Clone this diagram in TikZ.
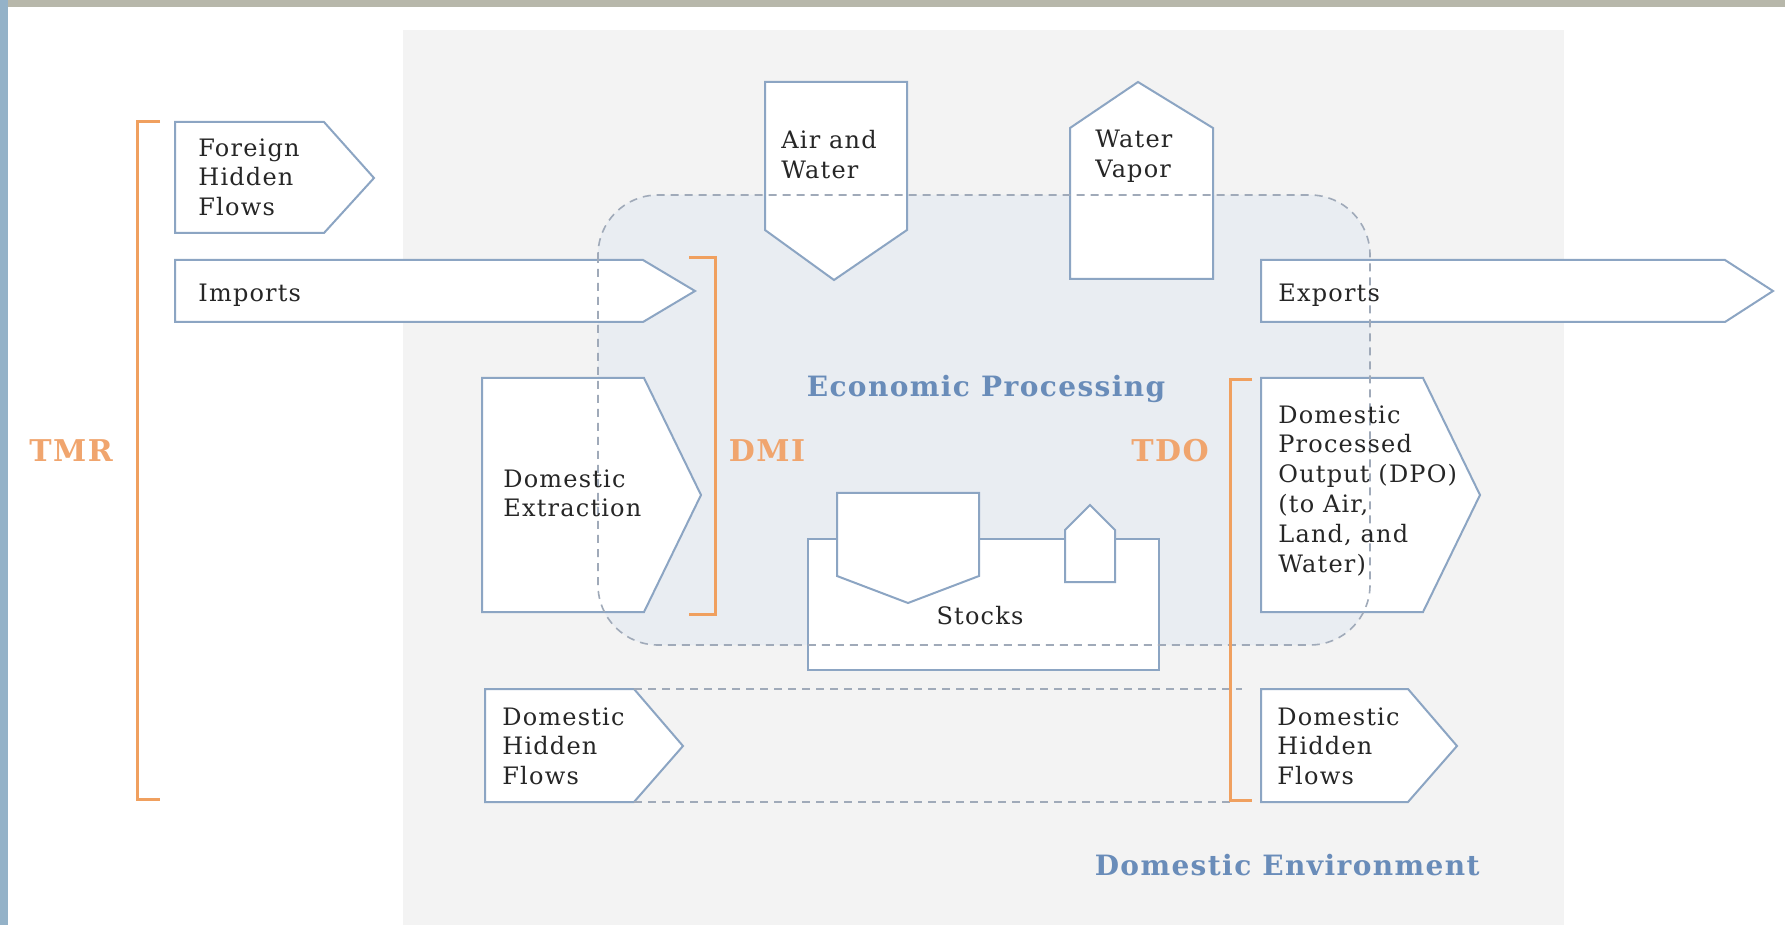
\documentclass[tikz,border=0pt]{standalone}
\usepackage{fontspec}
\setmainfont{DejaVu Serif}[LetterSpace=5]
\usepackage{tikz}

\definecolor{flowline}{RGB}{140,165,195}
\definecolor{bracketc}{RGB}{240,160,95}
\definecolor{tagc}{RGB}{240,165,110}
\definecolor{headc}{RGB}{105,140,185}
\definecolor{envfill}{RGB}{243,243,243}
\definecolor{econfill}{RGB}{233,237,242}
\definecolor{dashc}{RGB}{160,170,185}
\definecolor{topband}{RGB}{183,183,170}
\definecolor{sideband}{RGB}{148,178,200}

\begin{document}
\begin{tikzpicture}[x=0.5pt, y=-0.5pt,
  flow/.style={draw=flowline, fill=white, line width=1pt},
  bracket/.style={draw=bracketc, line width=1.5pt},
  hidden/.style={draw=dashc, line width=0.8pt, dash pattern=on 4pt off 3pt},
  label/.style={inner sep=0pt, align=left, text=black!85, font=\fontsize{12}{14.9}\selectfont},
  heading/.style={inner sep=0pt, text=headc, font=\fontsize{14}{16}\selectfont\bfseries},
  tag/.style={inner sep=0pt, anchor=base, text=tagc, font=\fontsize{15}{17}\selectfont\bfseries}]

\useasboundingbox (0,0) rectangle (1785,925);

% frame and the two regions
\fill[topband] (0,0) rectangle (1785,7);
\fill[sideband] (0,0) rectangle (8,925);
\fill[envfill] (403,30) rectangle (1564,925);
\fill[econfill, rounded corners=30pt] (598,195) rectangle (1370,645);

% inflows
\draw[flow] (175,122) -- (324,122) -- (374,178) -- (324,233) -- (175,233) -- cycle;
\draw[flow] (175,260) -- (643,260) -- (695,291) -- (643,322) -- (175,322) -- cycle;
\draw[flow] (482,378) -- (644,378) -- (701,495) -- (644,612) -- (482,612) -- cycle;
\draw[flow] (485,689) -- (634,689) -- (683,746) -- (634,802) -- (485,802) -- cycle;
\draw[flow] (765,82) -- (907,82) -- (907,230) -- (834,280) -- (765,230) -- cycle;

% outflows
\draw[flow] (1070,279) -- (1070,128) -- (1138,82) -- (1213,128) -- (1213,279) -- cycle;
\draw[flow] (1261,260) -- (1725,260) -- (1773,291) -- (1725,322) -- (1261,322) -- cycle;
\draw[flow] (1261,378) -- (1423,378) -- (1480,495) -- (1423,612) -- (1261,612) -- cycle;
\draw[flow] (1261,689) -- (1408,689) -- (1457,746) -- (1408,802) -- (1261,802) -- cycle;

% stocks with its additions and removals
\draw[flow] (808,539) rectangle (1159,670);
\draw[flow] (837,493) -- (979,493) -- (979,576) -- (908,603) -- (837,576) -- cycle;
\draw[flow] (1065,582) -- (1065,530) -- (1090,505) -- (1115,530) -- (1115,582) -- cycle;

% boundary of the economy
\draw[hidden, rounded corners=30pt] (598,195) rectangle (1370,645);
\draw[hidden] (634,689) -- (1242,689);
\draw[hidden] (634,802) -- (1230,802);

% indicator brackets
\draw[bracket] (160,122) -- (137,122) -- (137,799) -- (160,799);
\draw[bracket] (689,258) -- (715,258) -- (715,614) -- (689,614);
\draw[bracket] (1252,380) -- (1230,380) -- (1230,800) -- (1252,800);

\node[tag] (tmr) at (71,462) {TMR};
\node[tag] (dmi) at (767,462) {DMI};
\node[tag] (tdo) at (1170,462) {TDO};

% texts
\node[label, anchor=north west] (fhf) at (198,138) {Foreign\\Hidden\\Flows};
\node[label, anchor=base west] (imports) at (198,302) {Imports};
\node[label, anchor=north west] (dext) at (503,469) {Domestic\\Extraction};
\node[label, anchor=north west] (dhfin) at (502,707) {Domestic\\Hidden\\Flows};
\node[label, anchor=north west] (airwater) at (781,130) {Air and\\Water};
\node[label, anchor=north west] (vapor) at (1095,130) {Water\\Vapor};
\node[label, anchor=base west] (exports) at (1278,302) {Exports};
\node[label, anchor=north west] (dpo) at (1278,405) {Domestic\\Processed\\Output (DPO)\\(to Air,\\Land, and\\Water)};
\node[label, anchor=north west] (dhfout) at (1277,707) {Domestic\\Hidden\\Flows};
\node[label, anchor=base] (stocks) at (980,624) {Stocks};

\node[heading, anchor=base] (econ) at (986,397) {Economic Processing};
\node[heading, anchor=base east] (env) at (1480,875) {Domestic Environment};

\end{tikzpicture}
\end{document}
